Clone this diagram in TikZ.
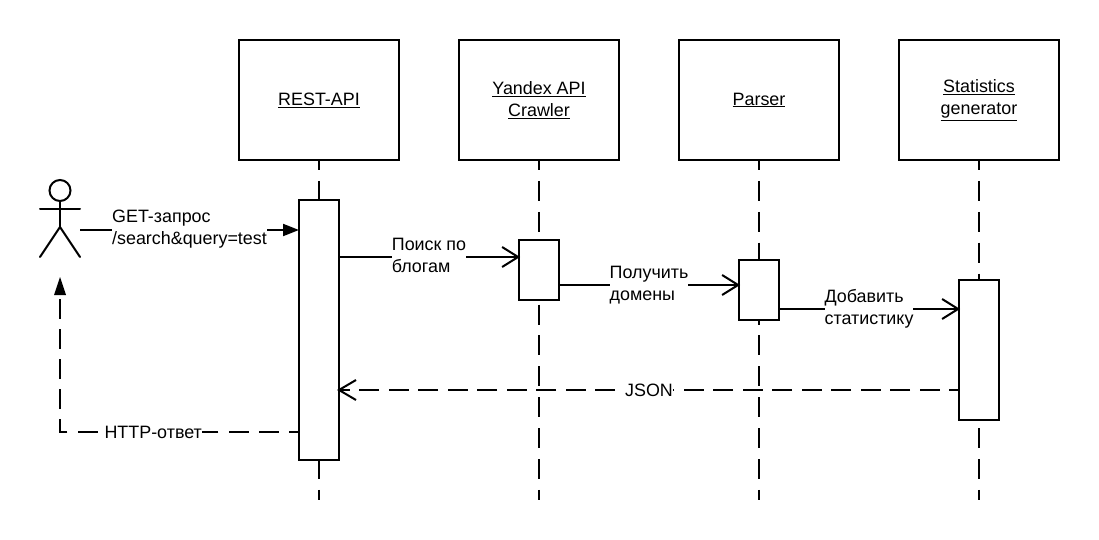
\documentclass[tikz,border=0pt]{standalone}
\usepackage{fontspec}
\setmainfont{Liberation Sans}
\usetikzlibrary{arrows.meta,calc}
\tikzset{
  x=1pt,y=-1pt,
  every node/.style={font=\fontsize{17.9}{22}\selectfont},
  objbox/.style={draw,line width=2pt,fill=white,outer sep=0pt,minimum width=160pt,minimum height=120pt,inner sep=0pt,align=center},
  actbox/.style={draw,line width=2pt,fill=white,outer sep=0pt,minimum width=40pt,inner sep=0pt},
  lifeline/.style={line width=2pt,dash pattern=on 20pt off 10.9pt,dash phase=10pt},
  msg/.style={line width=2pt,shorten >=-1pt,-{Straight Barb[length=16pt,width=20pt,line width=2pt]}},
  call/.style={line width=2pt,-{Triangle[length=16pt,width=12pt]}},
  replyjson/.style={line width=2pt,dash pattern=on 20pt off 9.5pt,dash phase=10pt},
  replyhttp/.style={line width=2pt,dash pattern=on 20pt off 10.2pt,dash phase=10pt},
  lbl/.style={fill=white,inner sep=0pt,align=left},
  limb/.style={line width=2pt,line cap=round},
}
\begin{document}
\begin{tikzpicture}
\useasboundingbox (0,0) rectangle (1099,540);
\fill[white] (0,0) rectangle (1099,540);
\node[objbox] (rest) at (319,100) {\underline{REST-API}};
\node[objbox] (crawler) at (539,100) {\underline{Yandex API}\\\underline{Crawler}};
\node[objbox] (parser) at (759,100) {\underline{Parser}};
\node[objbox] (stats) at (979,100) {\underline{Statistics}\\\underline{generator}};
\coordinate (restend) at (319,500);
\coordinate (crawlerend) at (539,500);
\coordinate (parserend) at (759,500);
\coordinate (statsend) at (979,500);
\draw[lifeline] (rest.south) -- (restend);
\draw[lifeline] (crawler.south) -- (crawlerend);
\draw[lifeline] (parser.south) -- (parserend);
\draw[lifeline] (stats.south) -- (statsend);
\node[actbox,minimum height=260pt] (a1) at (319,330) {};
\node[actbox,minimum height=60pt] (a2) at (539,270) {};
\node[actbox,minimum height=60pt] (a3) at (759,290) {};
\node[actbox,minimum height=140pt] (a4) at (979,350) {};
% actor
\node[circle,draw,line width=2pt,outer sep=0pt,minimum size=21pt,inner sep=0pt] (head) at (60,190.5) {};
\coordinate (hip) at (60,227);
\draw[limb] (head.south) -- (hip);
\draw[limb] (40,209) -- (80,209);
\draw[limb] (40,257) -- (hip) -- (80,257);
\coordinate (actorout) at (80,230);
\coordinate (corner) at (60,432);
\coordinate (actorin) at (60,277);
% messages
\draw[call] (actorout) -- (a1.west |- actorout) node[lbl,pos=0.5,yshift=1pt] {GET-запрос\\/search\&query=test};
\draw[msg] (a1.east |- 0,257) -- (a2.west |- 0,257) node[lbl,pos=0.5,yshift=2pt] {Поиск по\\блогам};
\draw[msg] (a2.east |- 0,285) -- (a3.west |- 0,285) node[lbl,pos=0.5] {Получить\\домены};
\draw[msg] (a3.east |- 0,309) -- (a4.west |- 0,309) node[lbl,pos=0.5] {Добавить\\статистику};
\draw[replyjson] (a4.west |- 0,390) -- (a1.east |- 0,390) node[lbl,pos=0.5] {JSON};
\draw[line width=2pt] (a1.east |- 0,390) ++(17,-10) -- (a1.east |- 0,390) -- ++(17,10);
\draw[replyhttp] (a1.west |- corner) -- node[lbl,pos=0.61] {HTTP-ответ} (corner) -- (actorin);
\fill[white] (actorin) ++(-8,-1) rectangle ++(16,22);
\fill (actorin) ++(-6,18) -- ++(6,-18) -- ++(6,18) -- cycle;
\end{tikzpicture}
\end{document}
